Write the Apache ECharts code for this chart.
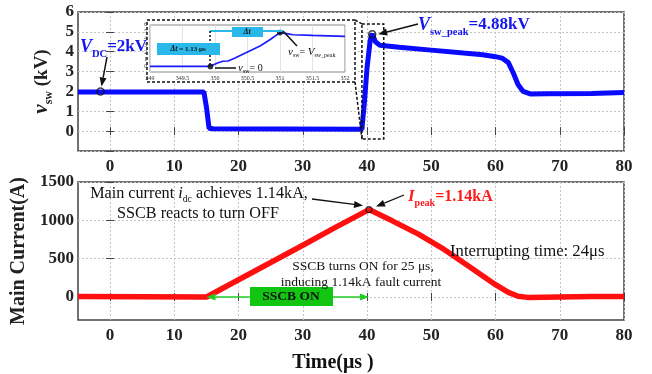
<!DOCTYPE html>
<html>
<head>
<meta charset="utf-8">
<script src="https://cdn.jsdelivr.net/npm/echarts@6/dist/echarts.min.js"></script>
<style>
  html, body { margin: 0; padding: 0; background: #fff; }
  #main { width: 652px; height: 374px; }
</style>
</head>
<body>
<div id="main"></div>
<script>
// switch voltage (kV) over time (us)
const vswTime = [-5, 14.6, 15.0, 15.4, 16, 39.2, 39.6, 40.0, 40.5, 40.8, 41.3, 42, 45, 50, 55, 58, 60, 61, 62, 62.8, 63.5, 64.3, 65.5, 68, 75, 80];
const vswKV   = [1.97, 1.97, 1.2, 0.15, 0.12, 0.1, 1.5, 3.2, 4.6, 4.9, 4.5, 4.32, 4.22, 4.08, 3.93, 3.85, 3.75, 3.68, 3.45, 2.9, 2.35, 2.0, 1.87, 1.88, 1.9, 1.95];

// main current (A)
const idcTime = [-5, 15, 20, 25, 30, 35, 40.3, 44, 48, 52, 56, 60, 62, 63.5, 65, 70, 75, 80];
const idcAmp  = [5, 0, 225, 450, 675, 905, 1140, 990, 820, 620, 390, 160, 60, 10, -5, 0, 5, 5];

// zoomed inset around turn-off
const zoomTime = [349, 349.9, 349.95, 350.05, 350.12, 350.2, 350.3, 350.5, 350.7, 350.85, 351.0, 351.1, 351.2, 351.5, 352];
const zoomKV   = [0.02, 0.02, 0.15, 0.55, 0.75, 0.8, 1.2, 2.1, 3.0, 3.9, 4.9, 4.75, 4.6, 4.5, 4.35];

const timeTicks = [0, 10, 20, 30, 40, 50, 60, 70, 80];
const currentTicks = [0, 500, 1000, 1500];
const zoomVTicks = [0, 1, 2, 3, 4, 5, 6];

const vdcPoint = [-1.5, 2];
const vpeakPoint = [40.8, 4.88];
const ipeakPoint = [40.3, 1140];

const serif = 'Liberation Serif';
const pairs = (xs, ys) => xs.map((x, i) => [x, ys[i]]);

const dom = document.getElementById('main');
const myChart = echarts.init(dom, null, { renderer: 'canvas' });

const gridLine = { show: true, lineStyle: { color: '#c4c4c4', type: [2, 2], width: 1 } };
const tickLbl = { fontFamily: serif, fontWeight: 'bold', fontSize: 17, color: '#222' };

function xAx(grid, pos, labels) {
  return {
    type: 'value', gridIndex: grid, position: pos, min: -5, max: 80,
    axisLine: { show: false },
    axisTick: { show: true, inside: true, length: 4, customValues: timeTicks, lineStyle: { color: '#444' } },
    axisLabel: labels ? Object.assign({ margin: 7, customValues: timeTicks }, tickLbl) : { show: false },
    splitLine: pos === 'bottom' ? gridLine : { show: false }
  };
}

const option = {
  animation: false,
  grid: [
    { left: 78, right: 28, top: 12, height: 139, show: true, borderColor: '#444', borderWidth: 1.5 },
    { left: 78, right: 28, top: 182, height: 138, show: true, borderColor: '#444', borderWidth: 1.5 },
    { left: 150, width: 195, top: 25, height: 47, show: true, borderColor: '#888', borderWidth: 1, backgroundColor: '#fff', z: 5 }
  ],
  xAxis: [
    xAx(0, 'bottom', true),
    xAx(0, 'top', false),
    Object.assign(xAx(1, 'bottom', true), {
      name: 'Time(μs )', nameLocation: 'middle', nameGap: 33,
      nameTextStyle: { fontFamily: serif, fontWeight: 'bold', fontSize: 20, color: '#111', padding: [0, 36, 0, 0] }
    }),
    xAx(1, 'top', false),
    {
      type: 'value', gridIndex: 2, min: 349, max: 352, interval: 0.5, z: 6,
      axisLine: { show: false }, axisTick: { show: false },
      axisLabel: { fontFamily: serif, fontSize: 6, color: '#333', margin: 3 },
      splitLine: { show: true, lineStyle: { color: '#ddd', width: 0.8 } }
    }
  ],
  yAxis: [
    {
      type: 'value', gridIndex: 0, min: -1, max: 6, interval: 1, position: 'left',
      axisLine: { show: false },
      axisTick: { show: true, inside: true, length: 4, lineStyle: { color: '#444' } },
      axisLabel: Object.assign({ margin: 4, formatter: v => (v < 0 ? '' : v) }, tickLbl),
      splitLine: gridLine,
      name: '{v|v}{sub|sw}{b| (kV)}', nameLocation: 'middle', nameGap: 20, nameRotate: 90,
      nameTextStyle: {
        rich: {
          v: { fontFamily: serif, fontStyle: 'italic', fontWeight: 'bold', fontSize: 21, color: '#222', lineHeight: 26 },
          sub: { fontFamily: serif, fontWeight: 'bold', fontSize: 12, color: '#222', lineHeight: 12, verticalAlign: 'bottom' },
          b: { fontFamily: serif, fontWeight: 'bold', fontSize: 19, color: '#222', lineHeight: 26 }
        }
      }
    },
    {
      type: 'value', gridIndex: 0, min: -1, max: 6, interval: 1, position: 'right',
      axisLine: { show: false }, axisLabel: { show: false }, splitLine: { show: false },
      axisTick: { show: true, inside: true, length: 4, lineStyle: { color: '#444' } }
    },
    {
      type: 'value', gridIndex: 1, min: -300, max: 1500, position: 'left',
      axisLine: { show: false },
      axisTick: { show: true, inside: true, length: 4, customValues: currentTicks, lineStyle: { color: '#444' } },
      axisLabel: Object.assign({ margin: 4, customValues: currentTicks, formatter: v => String(v) }, tickLbl),
      splitLine: gridLine,
      name: 'Main Current(A)', nameLocation: 'middle', nameGap: 37, nameRotate: 90,
      nameTextStyle: { fontFamily: serif, fontWeight: 'bold', fontSize: 20, color: '#222' }
    },
    {
      type: 'value', gridIndex: 1, min: -300, max: 1500, position: 'right',
      axisLine: { show: false }, axisLabel: { show: false }, splitLine: { show: false },
      axisTick: { show: true, inside: true, length: 4, customValues: currentTicks, lineStyle: { color: '#444' } }
    },
    {
      type: 'value', gridIndex: 2, min: -0.8, max: 6, z: 6,
      axisLine: { show: false }, axisTick: { show: false },
      axisLabel: { customValues: zoomVTicks, fontFamily: serif, fontSize: 5.5, color: '#333', margin: 3 },
      splitLine: { show: false }
    }
  ],
  series: [
    {
      name: 'vsw', type: 'line', xAxisIndex: 0, yAxisIndex: 0, showSymbol: false,
      data: pairs(vswTime, vswKV), lineStyle: { color: '#0a0aff', width: 5 }, z: 3
    },
    {
      name: 'idc', type: 'line', xAxisIndex: 2, yAxisIndex: 2, showSymbol: false,
      data: pairs(idcTime, idcAmp), lineStyle: { color: '#ff1010', width: 5.5 }, z: 3
    },
    {
      name: 'zoom', type: 'line', xAxisIndex: 4, yAxisIndex: 4, showSymbol: false,
      data: pairs(zoomTime, zoomKV), lineStyle: { color: '#1a1aff', width: 1.6 }, z: 7
    },
    {
      type: 'scatter', xAxisIndex: 0, yAxisIndex: 0, symbolSize: 7, z: 8,
      data: [vdcPoint, vpeakPoint],
      itemStyle: { color: 'rgba(0,0,0,0)', borderColor: '#111', borderWidth: 1.5 }
    },
    {
      type: 'scatter', xAxisIndex: 2, yAxisIndex: 2, symbolSize: 6, z: 8,
      data: [ipeakPoint],
      itemStyle: { color: 'rgba(0,0,0,0)', borderColor: '#111', borderWidth: 1.2 }
    },
    {
      type: 'scatter', xAxisIndex: 4, yAxisIndex: 4, symbolSize: 5, z: 8,
      data: [[349.93, 0], [351.0, 4.9]],
      itemStyle: { color: '#111', borderColor: '#111', borderWidth: 1 }
    }
  ]
};

myChart.setOption(option);

// annotations: arrows and labels
function arrow(p1, p2, color, w) {
  const dx = p2[0] - p1[0], dy = p2[1] - p1[1];
  const len = Math.sqrt(dx * dx + dy * dy);
  const ux = dx / len, uy = dy / len;
  const hl = 9, hw = 3.5;
  const bx = p2[0] - ux * hl, by = p2[1] - uy * hl;
  return [
    { type: 'line', z: 20, shape: { x1: p1[0], y1: p1[1], x2: bx, y2: by }, style: { stroke: color, lineWidth: w } },
    { type: 'polygon', z: 20, shape: { points: [[p2[0], p2[1]], [bx - uy * hw, by + ux * hw], [bx + uy * hw, by - ux * hw]] }, style: { fill: color } }
  ];
}
function dashed(points) {
  return { type: 'polyline', z: 4, shape: { points: points }, style: { stroke: '#111', lineWidth: 1.5, lineDash: [3, 2], fill: null } };
}
function txt(x, y, text, rich, align) {
  return { type: 'text', z: 30, x: x, y: y, style: { text: text, rich: rich, align: align || 'left', verticalAlign: 'middle' } };
}

const px = (grid, p) => myChart.convertToPixel({ gridIndex: grid }, p);
const vdcPx = px(0, vdcPoint);
const vpkPx = px(0, vpeakPoint);
const ipkPx = px(1, ipeakPoint);
const boxTL = px(0, [39.2, 5.4]);
const boxBR = px(0, [42.6, -0.4]);
const inOn = px(1, [15, 0]);
const inOff = px(1, [40.3, 0]);

// graphic rich text uses zrender style names (fill, not color)
const blueRich = {
  vi: { fontFamily: serif, fontStyle: 'italic', fontWeight: 'bold', fontSize: 18, fill: '#1515ee', lineHeight: 26 },
  sub: { fontFamily: serif, fontWeight: 'bold', fontSize: 10.5, fill: '#1515ee', lineHeight: 12, verticalAlign: 'bottom' },
  b: { fontFamily: serif, fontWeight: 'bold', fontSize: 17, fill: '#1515ee', lineHeight: 26 }
};
const redRich = {
  vi: { fontFamily: serif, fontStyle: 'italic', fontWeight: 'bold', fontSize: 17, fill: '#ff1a1a', lineHeight: 22 },
  sub: { fontFamily: serif, fontWeight: 'bold', fontSize: 10, fill: '#ff1a1a', lineHeight: 10, verticalAlign: 'bottom' },
  b: { fontFamily: serif, fontWeight: 'bold', fontSize: 16, fill: '#ff1a1a', lineHeight: 22 }
};
const plainRich = (size) => ({
  t: { fontFamily: serif, fontSize: size, fill: '#111', lineHeight: size + 4 },
  i: { fontFamily: serif, fontStyle: 'italic', fontSize: size, fill: '#111', lineHeight: size + 4 },
  sub: { fontFamily: serif, fontSize: size * 0.6, fill: '#111', lineHeight: size * 0.6, verticalAlign: 'bottom' }
});
const smallRich = {
  t: { fontFamily: serif, fontSize: 10, fill: '#111', lineHeight: 12 },
  i: { fontFamily: serif, fontStyle: 'italic', fontSize: 11, fill: '#111', lineHeight: 12 },
  sub: { fontFamily: serif, fontSize: 6, fill: '#111', lineHeight: 6, verticalAlign: 'bottom' },
  bi: { fontFamily: serif, fontStyle: 'italic', fontWeight: 'bold', fontSize: 8, fill: '#111' },
  bt: { fontFamily: serif, fontWeight: 'bold', fontSize: 7, fill: '#111' }
};

let g = [];
// inset frame, zoom box and connectors
g.push({ type: 'rect', z: 3, shape: { x: 147, y: 20, width: 208, height: 62 }, style: { fill: '#fff', stroke: '#111', lineWidth: 1.5, lineDash: [3, 2] } });
g.push({ type: 'rect', z: 4, shape: { x: boxTL[0], y: boxTL[1], width: boxBR[0] - boxTL[0], height: boxBR[1] - boxTL[1] }, style: { fill: null, stroke: '#111', lineWidth: 1.5, lineDash: [3, 2] } });
g.push(dashed([[355, 20], [boxTL[0], boxTL[1]]]));
g.push(dashed([[355, 82], [boxTL[0], boxBR[1]]]));
// inset decorations
g.push({ type: 'line', z: 22, shape: { x1: 210, y1: 31, x2: 283, y2: 31 }, style: { stroke: '#2ab8ea', lineWidth: 2 } });
g.push({ type: 'line', z: 22, shape: { x1: 210, y1: 31, x2: 210, y2: 66 }, style: { stroke: '#111', lineWidth: 1.5, lineDash: [2, 2] } });
g.push({ type: 'rect', z: 22, shape: { x: 157, y: 43, width: 63, height: 12 }, style: { fill: '#2ab8ea' } });
g.push(txt(188, 49, '{bi|Δt}{bt| = 1.13 μs}', smallRich, 'center'));
g.push({ type: 'rect', z: 22, shape: { x: 232, y: 27, width: 31, height: 10 }, style: { fill: '#2ab8ea' } });
g.push(txt(247, 32, '{bi|Δt}', smallRich, 'center'));
g.push({ type: 'line', z: 22, shape: { x1: 215, y1: 68, x2: 236, y2: 68 }, style: { stroke: '#111', lineWidth: 1.5 } });
g.push(txt(238, 68, '{i|v}{sub|sw}{t|= 0}', smallRich));
g.push({ type: 'line', z: 22, shape: { x1: 283, y1: 31, x2: 297, y2: 46 }, style: { stroke: '#111', lineWidth: 1.5 } });
g.push(txt(288, 52, '{i|v}{sub|sw}{t|= }{i|V}{sub|sw_peak}', smallRich));

// top plot labels
g.push(txt(80, 47, '{vi|V}{sub|DC}{b|=2kV}', blueRich));
g = g.concat(arrow([107, 57], [vdcPx[0] + 1, vdcPx[1] - 5], '#111', 1.5));
g.push(txt(418, 25, '{vi|V}{sub|sw_peak}{b|=4.88kV}', blueRich));
g = g.concat(arrow([418, 24], [vpkPx[0] + 6, vpkPx[1]], '#111', 1.5));

// bottom plot labels
g.push(txt(199, 194, '{t|Main current }{i|i}{sub|dc}{t| achieves 1.14kA,}', plainRich(16.2), 'center'));
g.push(txt(198, 214, '{t|SSCB reacts to turn OFF}', plainRich(16.2), 'center'));
g = g.concat(arrow([312, 199], [ipkPx[0] - 6, ipkPx[1] - 4], '#111', 1.3));
g.push(txt(408, 197, '{vi|I}{sub|peak}{b|=1.14kA}', redRich));
g = g.concat(arrow([404, 195], [ipkPx[0] + 7, ipkPx[1] - 3], '#111', 1.3));
g.push(txt(450, 252, '{t|Interrupting time: 24μs}', plainRich(16.7)));
g.push(txt(363, 266, '{t|SSCB turns ON for 25 μs,}', plainRich(13.5), 'center'));
g.push(txt(361, 282, '{t|inducing 1.14kA fault current}', plainRich(13.5), 'center'));
g.push({ type: 'rect', z: 22, shape: { x: 250, y: 287, width: 83, height: 19 }, style: { fill: '#11c511' } });
g.push(txt(291, 297, '{b|SSCB ON}', { b: { fontFamily: serif, fontWeight: 'bold', fontSize: 13.5, fill: '#111' } }, 'center'));
g = g.concat(arrow([250, 297], [inOn[0], inOn[1]], '#22cc22', 1.5));
g = g.concat(arrow([333, 297], [inOff[0], inOff[1]], '#22cc22', 1.5));

myChart.setOption({ graphic: g });

window.addEventListener('resize', function () {
  myChart.resize();
});
</script>
</body>
</html>
